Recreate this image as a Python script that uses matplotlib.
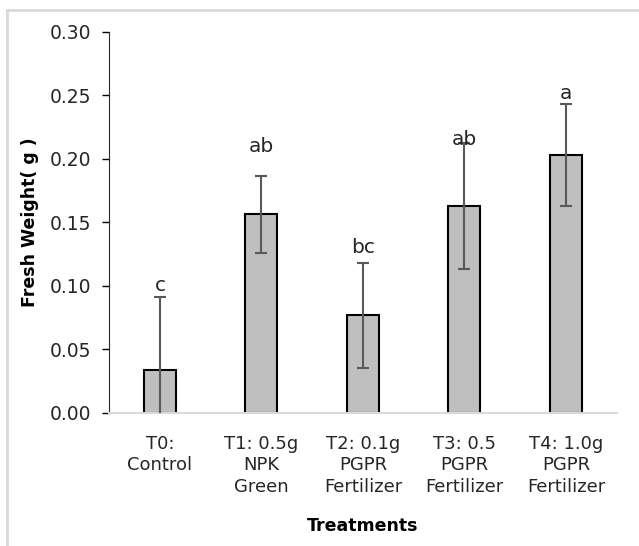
import numpy as np
import matplotlib
matplotlib.use("Agg")
import matplotlib.pyplot as plt
from matplotlib.patches import Rectangle

plt.rcParams['font.family'] = ['DejaVu Sans']

treatments = ["T0:\nControl", "T1: 0.5g\nNPK\nGreen", "T2: 0.1g\nPGPR\nFertilizer",
              "T3: 0.5\nPGPR\nFertilizer", "T4: 1.0g\nPGPR\nFertilizer"]
fresh_weight = [0.0334, 0.1561, 0.0765, 0.1626, 0.2025]
err = [0.0572, 0.0305, 0.0413, 0.0498, 0.0402]
letters = ["c", "ab", "bc", "ab", "a"]
letter_y = [0.0961, 0.2054, 0.126, 0.2106, 0.2466]

fig = plt.figure(figsize=(6.39, 5.46), dpi=100)
ax = fig.add_axes([0.171, 0.2445, 0.794, 0.6975])

x = np.arange(len(treatments))
ax.bar(x, fresh_weight, width=0.315, color="#bfbfbf", edgecolor="black", linewidth=1.5, zorder=2)
ax.errorbar(x, fresh_weight, yerr=err, fmt="none", ecolor="#595959", elinewidth=1.5,
            capsize=4, capthick=1.5, zorder=3)
for xi, t, yy in zip(x, letters, letter_y):
    ax.text(xi, yy, t, ha="center", va="baseline", fontsize=14.5, color="#262626", zorder=4)

ax.set_xlim(-0.5, 4.5)
ax.set_ylim(0, 0.30)
ax.set_yticks(np.arange(0, 0.301, 0.05))
ax.set_yticklabels(["%.2f" % v for v in np.arange(0, 0.301, 0.05)])
ax.set_xticks(x)
ax.set_xticklabels(treatments, linespacing=1.25)
ax.tick_params(axis="y", length=5, width=1, pad=8, labelsize=13.5, labelcolor="#262626")
ax.tick_params(axis="x", length=0, pad=16, labelsize=13, labelcolor="#262626")
ax.spines["top"].set_visible(False)
ax.spines["right"].set_visible(False)
ax.spines["left"].set_color("#262626")
ax.spines["bottom"].set_color("#d9d9d9")
ax.spines["bottom"].set_linewidth(1.5)

ax.set_ylabel("Fresh Weight( g )", fontsize=12.5, fontweight="bold", color="black", labelpad=8)
ax.set_xlabel("Treatments", fontsize=12.5, fontweight="bold", color="black", labelpad=15)

# light frame around the chart area (only left/top fall inside the image)
fig.patches.append(Rectangle((7 / 639, -0.1), 1.2, 1.1 - 10 / 546, transform=fig.transFigure,
                             fill=False, edgecolor="#d9d9d9", linewidth=2))

fig.savefig("out.png", dpi=100)
